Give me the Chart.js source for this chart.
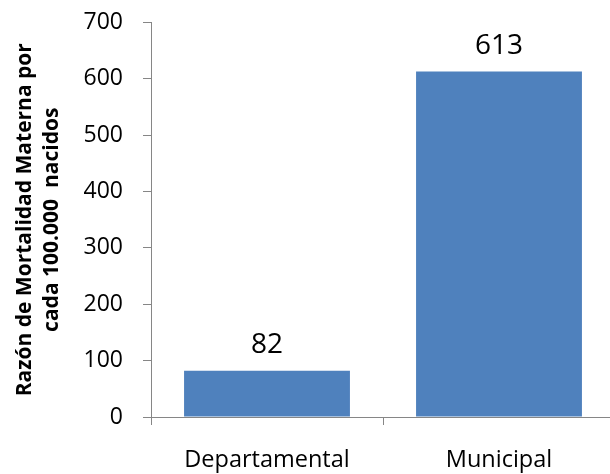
<!DOCTYPE html>
<html>
<head>
<meta charset="utf-8">
<script src="https://cdn.jsdelivr.net/npm/chart.js@4"></script>
<style>
html,body{margin:0;padding:0;background:#fff;overflow:hidden;}
canvas{display:block;}
</style>
</head>
<body>
<canvas id="c" width="620" height="474"></canvas>
<script>
const categories = ["Departamental", "Municipal"];
const values = [82, 613];
const yTicks = [0, 100, 200, 300, 400, 500, 600, 700];
const yTitle = ["Razón de Mortalidad Materna por", "cada 100.000  nacidos"];

const valueLabels = {
  id: 'valueLabels',
  afterDatasetsDraw(chart) {
    const ctx = chart.ctx;
    const meta = chart.getDatasetMeta(0);
    ctx.save();
    ctx.font = '28px "Open Sans"';
    ctx.fillStyle = '#000';
    ctx.textAlign = 'center';
    ctx.textBaseline = 'alphabetic';
    meta.data.forEach((bar, i) => {
      ctx.fillText(String(chart.data.datasets[0].data[i]), bar.x, bar.y - 18);
    });
    ctx.restore();
  }
};

new Chart(document.getElementById('c'), {
  type: 'bar',
  data: {
    labels: categories,
    datasets: [{
      data: values,
      backgroundColor: '#4F81BD',
      borderWidth: 0,
      barPercentage: 0.715,
      categoryPercentage: 1
    }]
  },
  options: {
    responsive: false,
    animation: false,
    events: [],
    layout: { padding: { top: 22.5, right: 5, left: 0, bottom: 0 } },
    plugins: { legend: { display: false }, tooltip: { enabled: false } },
    scales: {
      x: {
        offset: true,
        grid: { display: true, offset: true, drawOnChartArea: false, drawTicks: true, tickLength: 8, color: '#868686' },
        border: { display: true, color: '#868686', width: 1 },
        ticks: { color: '#000', font: { family: 'Open Sans', size: 23.5 }, padding: 21, maxRotation: 0 },
        afterFit(s) { s.height = 57; }
      },
      y: {
        min: 0, max: 700,
        afterBuildTicks(s) { s.ticks = yTicks.map(v => ({ value: v })); },
        grid: { display: true, drawOnChartArea: false, drawTicks: true, tickLength: 8, color: '#868686' },
        border: { display: true, color: '#868686', width: 1 },
        ticks: { color: '#000', font: { family: 'Open Sans', size: 23 }, padding: 20 },
        title: {
          display: true, text: yTitle, color: '#000',
          font: { family: 'Open Sans', size: 21, weight: 'bold', lineHeight: 1.29 },
          padding: { top: 11, bottom: 0 }
        },
        afterFit(s) { s.width = 151; s.paddingTop = 0; s.paddingBottom = 0; }
      }
    }
  },
  plugins: [valueLabels]
});
</script>
</body>
</html>
